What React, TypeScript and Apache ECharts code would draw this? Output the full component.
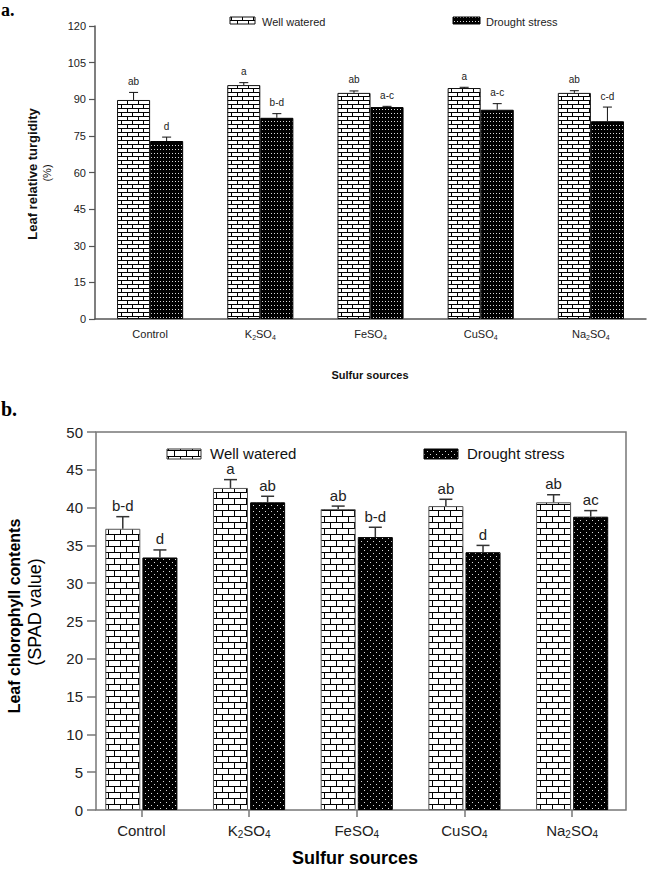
import React, { useEffect, useRef } from "react";
import * as echarts from "echarts";

// ---------- data ----------
const categories = ["Control", "K2SO4", "FeSO4", "CuSO4", "Na2SO4"];
const seriesNames = ["Well watered", "Drought stress"];

// (a) Leaf relative turgidity (%)
const turgWW = [89.7, 95.8, 92.6, 94.6, 92.6];
const turgWWErr = [3.1, 1.0, 0.8, 0.3, 0.9];
const turgDS = [72.9, 82.4, 86.8, 85.7, 81.0];
const turgDSErr = [1.6, 1.7, 0.3, 2.5, 5.8];
const turgWWLetters = ["ab", "a", "ab", "a", "ab"];
const turgDSLetters = ["d", "b-d", "a-c", "a-c", "c-d"];
const turgTicks = [0, 15, 30, 45, 60, 75, 90, 105, 120];

// (b) Leaf chlorophyll contents (SPAD value)
const chlWW = [37.2, 42.6, 39.8, 40.2, 40.7];
const chlWWErr = [1.6, 1.1, 0.4, 0.9, 1.0];
const chlDS = [33.4, 40.7, 36.1, 34.1, 38.8];
const chlDSErr = [1.0, 0.8, 1.3, 0.9, 0.8];
const chlWWLetters = ["b-d", "a", "ab", "ab", "ab"];
const chlDSLetters = ["d", "ab", "b-d", "d", "ac"];
const chlTicks = [0, 5, 10, 15, 20, 25, 30, 35, 40, 45, 50];

// ---------- styling helpers ----------
const SANS = "'Liberation Sans', Arial, Helvetica, sans-serif";
const SERIF = "'Liberation Serif', 'Times New Roman', serif";

function brickPattern(bw: number, rh: number) {
  const c = document.createElement("canvas");
  c.width = bw;
  c.height = rh * 2;
  const g = c.getContext("2d")!;
  g.fillStyle = "#fff";
  g.fillRect(0, 0, bw, rh * 2);
  g.fillStyle = "#000";
  g.fillRect(0, 0, bw, 1);
  g.fillRect(0, rh, bw, 1);
  g.fillRect(0, 0, 1, rh);
  g.fillRect(Math.round(bw / 2), rh, 1, rh);
  return { image: c.toDataURL(), repeat: "repeat", imageWidth: bw, imageHeight: rh * 2 } as any;
}

function dotPattern(w: number, h: number, stagger: boolean) {
  const c = document.createElement("canvas");
  c.width = w;
  c.height = h;
  const g = c.getContext("2d")!;
  g.fillStyle = "#000";
  g.fillRect(0, 0, w, h);
  g.fillStyle = "#dcdcdc";
  g.fillRect(1, 1, 1, 1);
  if (stagger) g.fillRect(1 + w / 2, 1 + h / 2, 1, 1);
  return { image: c.toDataURL(), repeat: "repeat", imageWidth: w, imageHeight: h } as any;
}

function subFormatter(v: string) {
  return v.replace(/[A-Za-z]+|\d+/g, (m) => (/\d/.test(m) ? `{sub|${m}}` : `{n|${m}}`));
}

function errSeries(
  xi: number,
  yi: number,
  values: number[],
  errs: number[],
  letters: string[],
  side: number,
  cfg: { catGap: number; barGap: number; cap: number; lw: number; stroke: string; fs: number; gap: number }
) {
  return {
    type: "custom",
    xAxisIndex: xi,
    yAxisIndex: yi,
    z: 5,
    silent: true,
    data: values.map((v, i) => [i, v, errs[i]]),
    renderItem: (params: any, api: any) => {
      const i = api.value(0);
      const v = api.value(1);
      const e = api.value(2);
      const bw = api.size([1, 0])[0];
      const barW = (bw * (1 - cfg.catGap)) / (2 + cfg.barGap);
      const off = side * (barW / 2 + (barW * cfg.barGap) / 2);
      const p0 = api.coord([i, v]);
      const p1 = api.coord([i, v + e]);
      const x = p0[0] + off;
      const ls = { stroke: cfg.stroke, lineWidth: cfg.lw };
      return {
        type: "group",
        children: [
          { type: "line", shape: { x1: x, y1: p0[1], x2: x, y2: p1[1] }, style: ls },
          { type: "line", shape: { x1: x - cfg.cap / 2, y1: p1[1], x2: x + cfg.cap / 2, y2: p1[1] }, style: ls },
          {
            type: "text",
            x: x,
            y: p1[1] - cfg.gap,
            style: {
              text: letters[params.dataIndex],
              align: "center",
              verticalAlign: "middle",
              fontSize: cfg.fs,
              fontFamily: SANS,
              fill: "#222",
            },
          },
        ],
      };
    },
  };
}

export default function App() {
  const ref = useRef<HTMLDivElement>(null);

  useEffect(() => {
    if (!ref.current) return;
    const chart = echarts.init(ref.current, undefined, { renderer: "svg" });

    const brickA = brickPattern(11, 4);
    const dotsA = dotPattern(3, 4, false);
    const brickB = brickPattern(12, 6);
    const dotsB = dotPattern(6, 6, true);

    const topCfg = { catGap: 0.4, barGap: 0, cap: 9, lw: 1, stroke: "#111", fs: 10, gap: 11 };
    const botCfg = { catGap: 0.33, barGap: 0.06, cap: 13, lw: 1.5, stroke: "#333", fs: 15, gap: 11 };

    const axisGrayA = "#555";
    const axisGrayB = "#777";

    const option: any = {
      animation: false,
      backgroundColor: "#fff",
      grid: [
        { left: 95, top: 26, width: 551, height: 293, outerBoundsMode: "none", containLabel: false },
        {
          left: 96, top: 432, width: 530, height: 378, show: true,
          borderColor: axisGrayB, borderWidth: 1.5, backgroundColor: "transparent",
          outerBoundsMode: "none", containLabel: false,
        },
        { left: 87.5, top: 432, width: 538.5, height: 378, outerBoundsMode: "none", containLabel: false },
      ],
      xAxis: [
        {
          type: "category", gridIndex: 0, data: categories,
          axisLine: { lineStyle: { color: axisGrayA, width: 1.5 } },
          axisTick: { alignWithLabel: true, length: 5, lineStyle: { color: axisGrayA, width: 1.2 } },
          axisLabel: {
            interval: 0, fontSize: 11, margin: 8, color: "#222", fontFamily: SANS,
            formatter: subFormatter,
            rich: {
              n: { fontSize: 11, fontFamily: SANS, color: "#222", lineHeight: 14 },
              sub: { fontSize: 7, fontFamily: SANS, color: "#222", verticalAlign: "bottom", lineHeight: 14 },
            },
          },
        },
        { type: "category", gridIndex: 1, data: categories, show: false },
        {
          type: "category", gridIndex: 2, data: categories,
          axisLine: { show: false },
          axisTick: { show: true, alignWithLabel: true, length: 7, lineStyle: { color: axisGrayB, width: 1.5 } },
          axisLabel: {
            interval: 0, fontSize: 15, margin: 11, color: "#222", fontFamily: SANS,
            formatter: subFormatter,
            rich: {
              n: { fontSize: 15, fontFamily: SANS, color: "#222", lineHeight: 18 },
              sub: { fontSize: 10, fontFamily: SANS, color: "#222", verticalAlign: "bottom", lineHeight: 18 },
            },
          },
        },
      ],
      yAxis: [
        {
          type: "value", gridIndex: 0,
          min: turgTicks[0], max: turgTicks[turgTicks.length - 1], interval: turgTicks[1] - turgTicks[0],
          axisLine: { show: true, lineStyle: { color: axisGrayA, width: 1.5 } },
          axisTick: { show: true, length: 6, lineStyle: { color: axisGrayA, width: 1.2 } },
          axisLabel: { fontSize: 11, margin: 9, color: "#222", fontFamily: SANS },
          splitLine: { show: false },
        },
        {
          type: "value", gridIndex: 1,
          min: chlTicks[0], max: chlTicks[chlTicks.length - 1], interval: chlTicks[1] - chlTicks[0],
          axisLine: { show: false },
          axisTick: { show: true, length: 9, lineStyle: { color: axisGrayB, width: 1.5 } },
          axisLabel: { fontSize: 15, margin: 13, color: "#222", fontFamily: SANS },
          splitLine: { show: false },
        },
        {
          type: "value", gridIndex: 2,
          min: chlTicks[0], max: chlTicks[chlTicks.length - 1], interval: chlTicks[1] - chlTicks[0],
          show: false, splitLine: { show: false },
        },
      ],
      series: [
        {
          name: seriesNames[0], type: "bar", xAxisIndex: 0, yAxisIndex: 0, data: turgWW,
          barGap: "0%", barCategoryGap: "40%",
          itemStyle: { color: brickA, borderColor: "#111", borderWidth: 1 },
        },
        {
          name: seriesNames[1], type: "bar", xAxisIndex: 0, yAxisIndex: 0, data: turgDS,
          barGap: "0%", barCategoryGap: "40%",
          itemStyle: { color: dotsA, borderColor: "#000", borderWidth: 1 },
        },
        errSeries(0, 0, turgWW, turgWWErr, turgWWLetters, -1, topCfg),
        errSeries(0, 0, turgDS, turgDSErr, turgDSLetters, 1, topCfg),
        {
          name: seriesNames[0], type: "bar", xAxisIndex: 2, yAxisIndex: 2, data: chlWW,
          barGap: "6%", barCategoryGap: "33%",
          itemStyle: { color: brickB, borderColor: "#555", borderWidth: 1 },
        },
        {
          name: seriesNames[1], type: "bar", xAxisIndex: 2, yAxisIndex: 2, data: chlDS,
          barGap: "6%", barCategoryGap: "33%",
          itemStyle: { color: dotsB, borderColor: "#000", borderWidth: 1 },
        },
        errSeries(2, 2, chlWW, chlWWErr, chlWWLetters, -1, botCfg),
        errSeries(2, 2, chlDS, chlDSErr, chlDSLetters, 1, botCfg),
      ],
      graphic: [
        // panel letters
        { type: "text", x: 1, y: 10, style: { text: "a.", fontSize: 18, fontWeight: "bold", fontFamily: SERIF, fill: "#000", verticalAlign: "middle" } },
        { type: "text", x: 1, y: 409, style: { text: "b.", fontSize: 20, fontWeight: "bold", fontFamily: SERIF, fill: "#000", verticalAlign: "middle" } },
        // top legend
        { type: "rect", shape: { x: 230, y: 17, width: 25, height: 7 }, style: { fill: brickA, stroke: "#111", lineWidth: 1 } },
        { type: "text", x: 262, y: 22, style: { text: seriesNames[0], fontSize: 11, fontFamily: SANS, fill: "#222", verticalAlign: "middle" } },
        { type: "rect", shape: { x: 453, y: 17, width: 27, height: 7 }, style: { fill: dotsA, stroke: "#000", lineWidth: 1 } },
        { type: "text", x: 486, y: 22, style: { text: seriesNames[1], fontSize: 11, fontFamily: SANS, fill: "#222", verticalAlign: "middle" } },
        // top axis titles
        { type: "text", x: 32, y: 174, rotation: Math.PI / 2, style: { text: "Leaf relative turgidity", fontSize: 13, fontWeight: "bold", fontFamily: SANS, fill: "#111", align: "center", verticalAlign: "middle" } },
        { type: "text", x: 47, y: 173, rotation: Math.PI / 2, style: { text: "(%)", fontSize: 11, fontFamily: SANS, fill: "#111", align: "center", verticalAlign: "middle" } },
        { type: "text", x: 370, y: 375, style: { text: "Sulfur sources", fontSize: 11, fontWeight: "bold", fontFamily: SANS, fill: "#111", align: "center", verticalAlign: "middle" } },
        // bottom legend
        { type: "rect", shape: { x: 167, y: 449, width: 34, height: 10 }, style: { fill: brickB, stroke: "#333", lineWidth: 1 } },
        { type: "text", x: 210, y: 453, style: { text: seriesNames[0], fontSize: 15, fontFamily: SANS, fill: "#111", verticalAlign: "middle" } },
        { type: "rect", shape: { x: 424, y: 449, width: 34, height: 10 }, style: { fill: dotsB, stroke: "#000", lineWidth: 1 } },
        { type: "text", x: 467, y: 453, style: { text: seriesNames[1], fontSize: 15, fontFamily: SANS, fill: "#111", verticalAlign: "middle" } },
        // bottom axis titles
        { type: "text", x: 14, y: 616, rotation: Math.PI / 2, style: { text: "Leaf chlorophyll contents", fontSize: 16, fontWeight: "bold", fontFamily: SANS, fill: "#000", align: "center", verticalAlign: "middle" } },
        { type: "text", x: 35, y: 612, rotation: Math.PI / 2, style: { text: "(SPAD value)", fontSize: 18, fontFamily: SANS, fill: "#000", align: "center", verticalAlign: "middle" } },
        { type: "text", x: 355, y: 858, style: { text: "Sulfur sources", fontSize: 18, fontWeight: "bold", fontFamily: SANS, fill: "#000", align: "center", verticalAlign: "middle" } },
      ],
    };

    chart.setOption(option);
    return () => chart.dispose();
  }, []);

  return (
    <div
      ref={ref}
      style={{ position: "absolute", left: 0, top: 0, width: 647, height: 869, background: "#fff" }}
    />
  );
}
